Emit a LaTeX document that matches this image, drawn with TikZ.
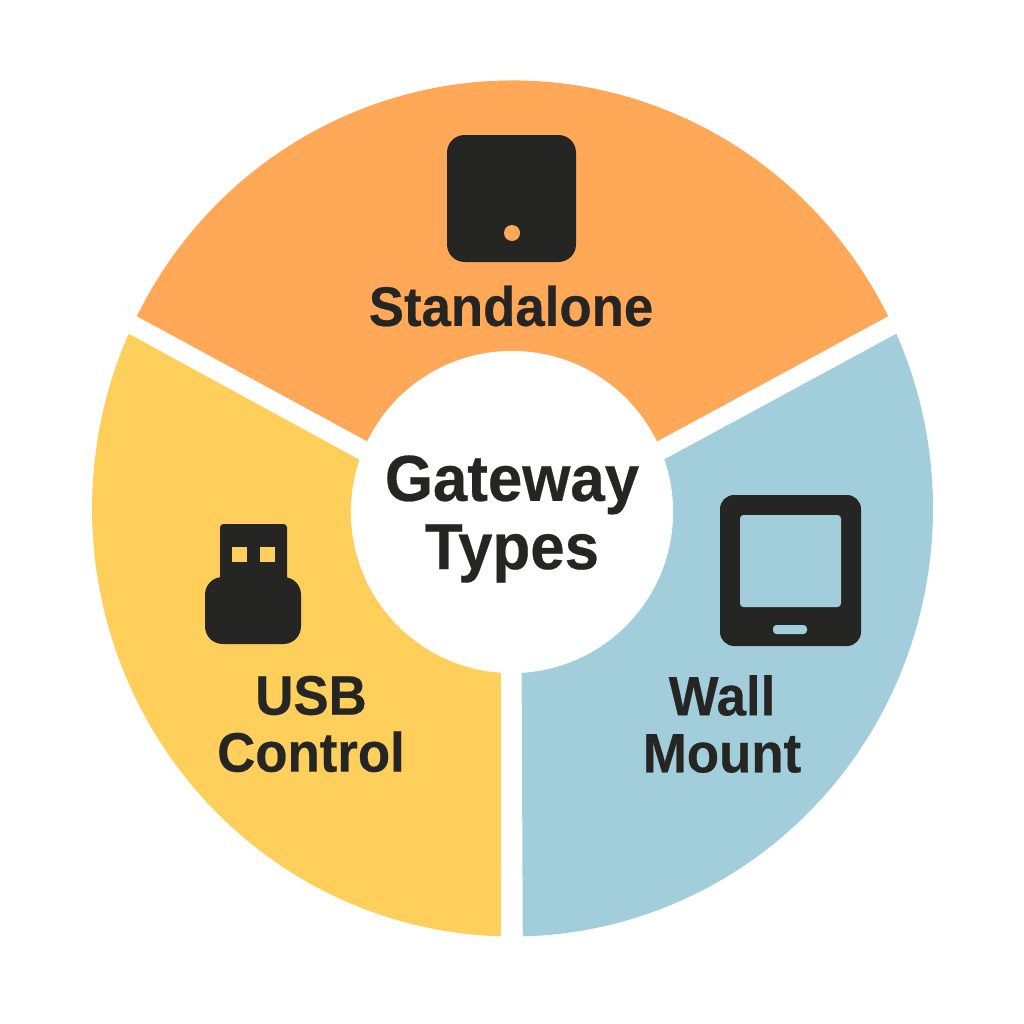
\documentclass[tikz,border=0pt]{standalone}
\usepackage{fontspec}
\setmainfont{Liberation Sans}[BoldFeatures={FakeBold=0.4,FakeStretch=0.95}]
\definecolor{sunorange}{HTML}{FFA857}
\definecolor{sunyellow}{HTML}{FFCF5C}
\definecolor{paleblue}{HTML}{A1CEDA}
\definecolor{icondark}{HTML}{252523}
\tikzset{
	typelabel/.style={text=icondark, align=center, inner sep=0pt, font=\bfseries\fontsize{15.8pt}{16.2pt}\selectfont},
	hublabel/.style={text=icondark, align=center, inner sep=0pt, font=\bfseries\fontsize{18.5pt}{19.4pt}\selectfont}
}

\begin{document}
\begin{tikzpicture}[x=0.01cm, y=-0.01cm]
	\useasboundingbox (0,0) rectangle (1024,1024);
	\foreach \a/\b/\px/\py/\col in {206.7/333.3/512/520/sunorange, 204.1/91.6/501/537/sunyellow, -24.1/88.6/521/537/paleblue} {
		\fill[\col] (512.5,508.5) ++(\a:420.5 and 428) arc[start angle=\a, end angle=\b, x radius=420.5, y radius=428] -- (\px,\py) -- cycle;
	}
	\node[circle, fill=white, minimum size=3.22cm, inner sep=0pt] (hub) at (512,512) {};
	\node[hublabel] (hubtext) at (512,519) {Gateway\\Types};
	% standalone box
	\fill[icondark, rounded corners=5pt] (447,135) rectangle (576,262);
	\fill[sunorange] (512,233) circle (8);
	\node[typelabel] (standalone) at (511,306) {Standalone};
	% usb stick
	\fill[icondark, rounded corners=1pt] (220,600) -- (220,524) -- (287,524) -- (287,600) -- cycle;
	\fill[icondark, rounded corners=5pt] (205,577) rectangle (301,644);
	\foreach \x in {232,260} {
		\fill[sunyellow] (\x,547) rectangle +(15,15);
	}
	\node[typelabel] (usb) at (311,724) {USB\\Control};
	% wall tablet
	\fill[icondark, rounded corners=4pt] (720,495) rectangle (861,646);
	\fill[paleblue, rounded corners=1pt] (740,515) rectangle (841,607);
	\fill[paleblue, rounded corners=1pt] (773,625) rectangle (807,634);
	\node[typelabel] (wall) at (722,724) {Wall\\Mount};
\end{tikzpicture}
\end{document}
